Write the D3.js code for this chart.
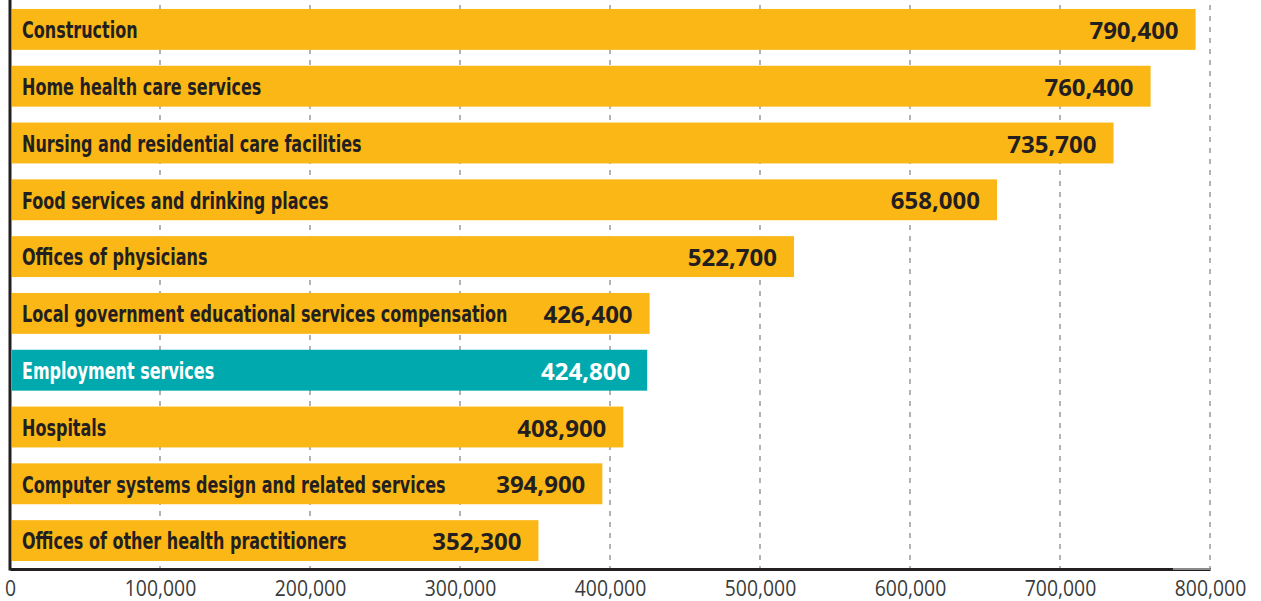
<!DOCTYPE html>
<html>
<head>
<meta charset="utf-8">
<script src="https://cdn.jsdelivr.net/npm/d3@7"></script>
<style>
  html, body { margin: 0; padding: 0; background: #fff; }
  svg { display: block; }
</style>
</head>
<body>
<svg id="chart" width="1261" height="601"></svg>
<script>
// Industries ranked by projected new jobs
const categories = [
  "Construction",
  "Home health care services",
  "Nursing and residential care facilities",
  "Food services and drinking places",
  "Offices of physicians",
  "Local government educational services compensation",
  "Employment services",
  "Hospitals",
  "Computer systems design and related services",
  "Offices of other health practitioners"
];
const values = [790400, 760400, 735700, 658000, 522700, 426400, 424800, 408900, 394900, 352300];
const highlighted = ["Employment services"];
const tickValues = [0, 100000, 200000, 300000, 400000, 500000, 600000, 700000, 800000];

const data = categories.map((c, i) => ({ name: c, value: values[i] }));

const svg = d3.select("#chart");
const margin = { left: 10, right: 51, top: 1, bottom: 32 };
const W = 1261, H = 601;

const x = d3.scaleLinear().domain([0, 800000]).range([margin.left, W - margin.right]);
const y = d3.scaleBand().domain(categories)
  .range([margin.top, H - margin.bottom])
  .paddingInner(0.28).paddingOuter(0.14);

const yellow = "#FBB715", teal = "#00A9AD", ink = "#231F20";
const fmt = d3.format(",");

// dashed gridlines
svg.append("g").selectAll("line")
  .data(tickValues.filter(d => d > 0))
  .join("line")
  .attr("x1", d => x(d)).attr("x2", d => x(d))
  .attr("y1", 5).attr("y2", H - margin.bottom)
  .attr("stroke", "#9a9a9a").attr("stroke-width", 1.5)
  .attr("stroke-dasharray", "5,6");

// bars
svg.append("g").selectAll("rect")
  .data(data)
  .join("rect")
  .attr("x", x(0) + 2)
  .attr("y", d => y(d.name))
  .attr("width", d => x(d.value) - x(0) - 2)
  .attr("height", y.bandwidth())
  .attr("fill", d => highlighted.includes(d.name) ? teal : yellow);

// category labels, drawn in a condensed bold face
const catLabels = svg.append("g").selectAll("text")
  .data(data)
  .join("text")
  .attr("x", 0)
  .attr("y", 0)
  .attr("dy", "0.38em")
  .attr("font-family", "'DejaVu Sans Condensed', 'DejaVu Sans', sans-serif")
  .attr("font-weight", "bold")
  .attr("font-size", 23)
  .attr("fill", d => highlighted.includes(d.name) ? "#fff" : ink)
  .text(d => d.name);
{
  let maxW = 0;
  catLabels.each(function () { maxW = Math.max(maxW, this.getComputedTextLength()); });
  const k = 486 / maxW;
  catLabels.attr("transform", d => `translate(22,${y(d.name) + y.bandwidth() / 2}) scale(${k},1)`);
}

// value labels
svg.append("g").selectAll("text")
  .data(data)
  .join("text")
  .attr("x", d => x(d.value) - 17)
  .attr("y", d => y(d.name) + y.bandwidth() / 2)
  .attr("dy", "0.4em")
  .attr("text-anchor", "end")
  .attr("font-family", "'Open Sans', sans-serif")
  .attr("font-weight", 700)
  .attr("font-size", 24)
  .attr("fill", d => highlighted.includes(d.name) ? "#fff" : ink)
  .text(d => fmt(d.value));

// bottom axis
const axis = svg.append("g")
  .attr("transform", `translate(0,${H - margin.bottom})`)
  .call(d3.axisBottom(x).tickValues(tickValues).tickSize(0).tickPadding(11).tickFormat(fmt));
axis.select(".domain").attr("stroke", ink).attr("stroke-width", 3);
axis.selectAll("text")
  .attr("font-family", "'Open Sans', sans-serif")
  .attr("font-size", 22)
  .attr("fill", "#3a3a3a")
  .each(function () {
    const t = d3.select(this);
    const px = +t.attr("x") || 0;
    t.attr("transform", `translate(${px},0) scale(0.88,1)`).attr("x", 0);
  });

// lighter tail at the end of the baseline
svg.append("line")
  .attr("x1", x(775300)).attr("x2", x(800000))
  .attr("y1", H - margin.bottom).attr("y2", H - margin.bottom)
  .attr("stroke", "#8a8a8a").attr("stroke-width", 2);

// left axis line
svg.append("line")
  .attr("x1", x(0)).attr("x2", x(0))
  .attr("y1", 0).attr("y2", H - margin.bottom + 1.5)
  .attr("stroke", ink).attr("stroke-width", 3);
</script>
</body>
</html>
